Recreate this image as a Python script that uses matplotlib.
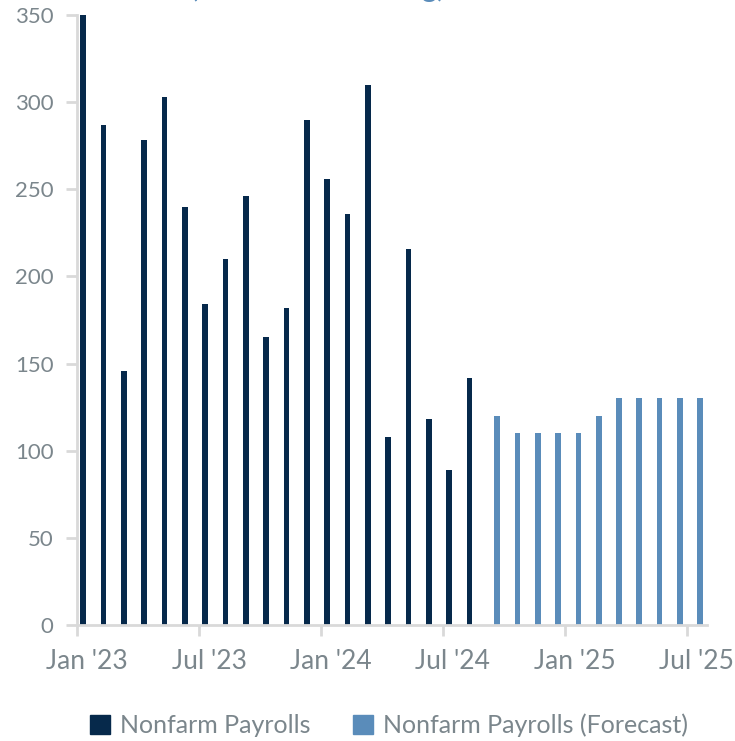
import matplotlib
matplotlib.use("Agg")
import matplotlib.pyplot as plt
from matplotlib.patches import Patch

plt.rcParams['font.family'] = ['Lato', 'DejaVu Sans']

# monthly payrolls, thousands (Jan '23 - Aug '24 actual, Sep '24 - Jul '25 forecast)
actual_vals = [350, 287, 146, 278, 303, 240, 184, 210, 246, 165, 182, 290,
               256, 236, 310, 108, 216, 118, 89, 142]
forecast_vals = [120, 110, 110, 110, 110, 120, 130, 130, 130, 130, 130]
tick_labels = ["Jan '23", "Jul '23", "Jan '24", "Jul '24", "Jan '25", "Jul '25"]
yticks = [0, 50, 100, 150, 200, 250, 300, 350]

navy = '#06294b'
light = '#5a8cba'
grey = '#7b868c'
axis_grey = '#d9d9d9'

fig = plt.figure(figsize=(7.35, 7.41), dpi=100)
ax = fig.add_axes([77/735, 1 - 625/741, 630/735, 610/741])

# clustered layout: actual in left slot, forecast in right slot of each month
x_act = [i + 0.31 for i in range(len(actual_vals))]
x_fc = [len(actual_vals) + i + 0.67 for i in range(len(forecast_vals))]
ax.bar(x_act, actual_vals, width=0.28, color=navy)
ax.bar(x_fc, forecast_vals, width=0.28, color=light)

ax.set_xlim(0, 31)
ax.set_ylim(0, 350)
ax.set_yticks(yticks)
# tick marks on month boundaries, labels centred on the month
ax.set_xticks([0, 6, 12, 18, 24, 30], minor=True)
ax.set_xticks([0.5, 6.5, 12.5, 18.5, 24.5, 30.5])
ax.set_xticklabels(tick_labels)

for s in ['top', 'right']:
    ax.spines[s].set_visible(False)
for s in ['left', 'bottom']:
    ax.spines[s].set_color(axis_grey)
    ax.spines[s].set_linewidth(2)
ax.tick_params(axis='both', which='both', colors=axis_grey, width=2, length=8,
               labelcolor=grey)
ax.tick_params(axis='y', pad=9, labelsize=16)
ax.tick_params(axis='x', which='major', length=0, pad=17, labelsize=19)

# title, mostly cut off by the top edge
fig.text(318/735, 1 + 3/741, "(Thousands Rolling)", color=light, fontsize=21.5,
         ha='center', va='baseline')

handles = [Patch(color=navy, label='Nonfarm Payrolls'),
           Patch(color=light, label='Nonfarm Payrolls (Forecast)')]
leg = fig.legend(handles=handles, loc='center', bbox_to_anchor=(389/735, 1 - 725/741),
                 ncol=2, frameon=False, fontsize=18, handlelength=0.8,
                 handleheight=0.8, columnspacing=1.7, handletextpad=0.4)
for t in leg.get_texts():
    t.set_color(grey)

fig.savefig('out.png', dpi=100)
